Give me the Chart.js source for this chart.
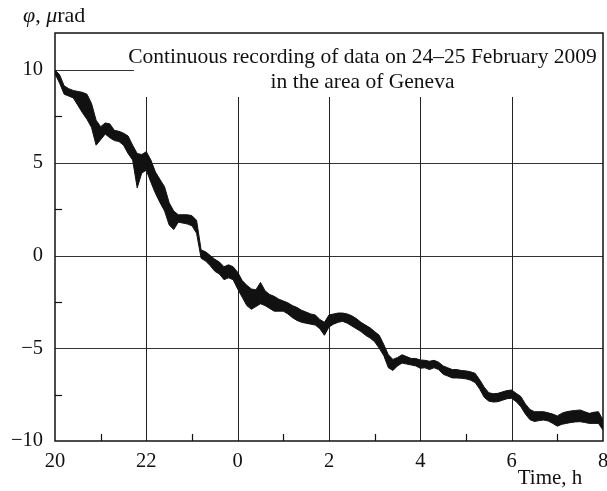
<!DOCTYPE html>
<html>
<head>
<meta charset="utf-8">
<script src="https://cdn.jsdelivr.net/npm/chart.js@4"></script>
<style>
html,body{margin:0;padding:0;background:#fff;}
canvas{display:block;}
</style>
</head>
<body>
<canvas id="c" width="607" height="491"></canvas>
<script>
// Sample times (hours, continuing past midnight: 24 = 0 h, 32 = 8 h)
const times = [20.0,20.1,20.2,20.3,20.4,20.5,20.6,20.7,20.8,20.9,
21.0,21.1,21.2,21.3,21.4,21.5,21.6,21.7,21.8,21.9,
22.0,22.1,22.2,22.3,22.4,22.5,22.6,22.7,22.8,22.9,
23.0,23.1,23.2,23.3,23.4,23.5,23.6,23.7,23.8,23.9,
24.0,24.1,24.2,24.3,24.4,24.5,24.6,24.7,24.8,24.9,
25.0,25.1,25.2,25.3,25.4,25.5,25.6,25.7,25.8,25.9,
26.0,26.1,26.2,26.3,26.4,26.5,26.6,26.7,26.8,26.9,
27.0,27.1,27.2,27.3,27.4,27.5,27.6,27.7,27.8,27.9,
28.0,28.1,28.2,28.3,28.4,28.5,28.6,28.7,28.8,28.9,
29.0,29.1,29.2,29.3,29.4,29.5,29.6,29.7,29.8,29.9,
30.0,30.1,30.2,30.3,30.4,30.5,30.6,30.7,30.8,30.9,
31.0,31.1,31.2,31.3,31.4,31.5,31.6,31.7,31.8,31.9,32.0];

// Upper edge of the recorded (noisy) trace, microrad
const phiUpper = [10.0,9.75,9.15,9.0,8.9,8.85,8.8,8.7,8.2,7.3,
6.95,7.15,7.1,6.75,6.7,6.6,6.45,5.95,5.5,5.45,
5.6,5.15,4.5,4.1,3.7,2.85,2.4,2.2,2.2,2.2,
2.15,1.9,0.3,0.2,0.0,-0.2,-0.35,-0.6,-0.5,-0.6,
-0.9,-1.35,-1.6,-1.8,-1.85,-1.45,-1.9,-2.1,-2.2,-2.35,
-2.45,-2.55,-2.7,-2.8,-2.95,-3.05,-3.15,-3.2,-3.45,-3.6,
-3.2,-3.15,-3.1,-3.1,-3.15,-3.25,-3.4,-3.6,-3.75,-3.9,
-4.1,-4.3,-4.8,-5.35,-5.6,-5.5,-5.35,-5.45,-5.55,-5.55,
-5.63,-5.65,-5.7,-5.65,-5.75,-5.95,-6.05,-6.15,-6.15,-6.2,
-6.22,-6.27,-6.35,-6.7,-7.1,-7.4,-7.45,-7.43,-7.35,-7.28,
-7.25,-7.43,-7.6,-8.0,-8.3,-8.42,-8.42,-8.42,-8.48,-8.55,
-8.65,-8.5,-8.42,-8.38,-8.35,-8.33,-8.42,-8.51,-8.45,-8.42,-8.87];

// Lower edge of the recorded (noisy) trace, microrad
const phiLower = [9.8,9.3,8.7,8.6,8.5,8.1,7.7,7.35,6.9,5.95,
6.25,6.55,6.35,6.2,6.15,5.95,5.5,5.15,3.65,4.45,
4.6,3.95,3.35,2.85,2.4,1.65,1.4,1.8,1.75,1.7,
1.6,1.2,-0.15,-0.3,-0.55,-0.85,-1.0,-1.3,-1.2,-1.3,
-1.8,-2.25,-2.7,-2.9,-2.75,-2.6,-2.7,-2.85,-3.0,-3.0,
-3.0,-3.15,-3.35,-3.5,-3.6,-3.65,-3.7,-3.75,-3.95,-4.3,
-3.85,-3.7,-3.6,-3.55,-3.65,-3.8,-3.95,-4.1,-4.3,-4.45,
-4.65,-5.0,-5.4,-6.05,-6.2,-5.95,-5.8,-5.85,-5.9,-5.95,
-6.08,-6.05,-6.15,-6.05,-6.15,-6.4,-6.5,-6.6,-6.6,-6.62,
-6.65,-6.72,-6.85,-7.2,-7.65,-7.85,-7.9,-7.88,-7.8,-7.72,
-7.7,-7.88,-8.15,-8.55,-8.85,-8.95,-8.9,-8.87,-8.92,-9.05,
-9.2,-9.1,-9.05,-9.0,-8.97,-8.96,-9.0,-9.05,-9.05,-9.05,-9.41];

const xTicks = [20,22,24,26,28,30,32];
const xMinor = [21,23,25,27,29,31];
const yTicks = [-10,-5,0,5,10];
const yMinor = [-7.5,-2.5,2.5,7.5];
const vGrid = [22,24,26,28,30];
const hGrid = [-5,0,5];
const titleLines = ['Continuous recording of data on 24\u201325 February 2009','in the area of Geneva'];

const SERIF = '"Liberation Serif","Times New Roman",serif';

const decor = {
  id:'decor',
  beforeDatasetsDraw(chart){
    const {ctx, chartArea:a, scales:{x,y}} = chart;
    ctx.save();
    ctx.lineWidth = 1;
    ctx.strokeStyle = '#333';
    hGrid.forEach(v=>{
      const py = Math.round(y.getPixelForValue(v))+0.5;
      ctx.beginPath(); ctx.moveTo(a.left,py); ctx.lineTo(a.right,py); ctx.stroke();
    });
    // short gridline at 10 (interrupted by the caption)
    let py = Math.round(y.getPixelForValue(10))+0.5;
    ctx.beginPath(); ctx.moveTo(a.left,py); ctx.lineTo(x.getPixelForValue(21.73),py); ctx.stroke();
    ctx.strokeStyle = '#222';
    vGrid.forEach(v=>{
      const px = Math.round(x.getPixelForValue(v))+0.5;
      ctx.beginPath(); ctx.moveTo(px,a.bottom); ctx.lineTo(px,y.getPixelForValue(8.55)); ctx.stroke();
    });
    ctx.restore();
  },
  afterDatasetsDraw(chart){
    const {ctx, chartArea:a, scales:{x,y}} = chart;
    ctx.save();
    ctx.strokeStyle = '#111';
    ctx.lineWidth = 1.5;
    ctx.strokeRect(a.left,a.top,a.right-a.left,a.bottom-a.top);
    ctx.lineWidth = 1.2;
    yMinor.forEach(v=>{
      const py = Math.round(y.getPixelForValue(v))+0.5;
      ctx.beginPath(); ctx.moveTo(a.left,py); ctx.lineTo(a.left+7,py); ctx.stroke();
    });
    xMinor.forEach(v=>{
      const px = Math.round(x.getPixelForValue(v))+0.5;
      ctx.beginPath(); ctx.moveTo(px,a.bottom); ctx.lineTo(px,a.bottom-7); ctx.stroke();
    });
    // caption
    ctx.fillStyle = '#111';
    ctx.font = '21.5px '+SERIF;
    ctx.textAlign = 'center';
    ctx.textBaseline = 'middle';
    const cx = 362.5;
    ctx.fillText(titleLines[0], cx, 57);
    ctx.fillText(titleLines[1], cx, 82);
    // axis titles
    ctx.textAlign = 'left';
    let tx = 23;
    const parts = [['\u03C6','italic '],[', ',''],['\u03BC','italic '],['rad','']];
    parts.forEach(([s,st])=>{
      ctx.font = st+'22px '+SERIF;
      ctx.fillText(s, tx, 16);
      tx += ctx.measureText(s).width;
    });
    ctx.font = '21px '+SERIF;
    ctx.textAlign = 'center';
    ctx.fillText('Time, h', 550, 478);
    ctx.restore();
  }
};

new Chart(document.getElementById('c'),{
  type:'line',
  data:{
    datasets:[
      {data:times.map((t,i)=>({x:t,y:phiUpper[i]})), borderColor:'#111', borderWidth:1, pointRadius:0, fill:false, tension:0},
      {data:times.map((t,i)=>({x:t,y:phiLower[i]})), borderColor:'#111', borderWidth:1, pointRadius:0, fill:'-1', backgroundColor:'#111', tension:0}
    ]
  },
  options:{
    responsive:false,
    animation:false,
    devicePixelRatio:1,
    layout:{padding:{top:33,right:4,left:0,bottom:0}},
    plugins:{legend:{display:false},tooltip:{enabled:false},title:{display:false}},
    scales:{
      x:{
        type:'linear', min:20, max:32,
        grid:{display:false, drawTicks:false},
        border:{display:false},
        afterBuildTicks(s){ s.ticks = xTicks.map(v=>({value:v})); },
        afterFit(s){ s.height = 50; s.paddingLeft = 0; s.paddingRight = 0; },
        ticks:{color:'#111', padding:8, maxRotation:0, autoSkip:false,
          font:{family:SERIF,size:20.5},
          callback:v=>String(v%24)}
      },
      y:{
        type:'linear', min:-10, max:12,
        grid:{display:false, drawTicks:false},
        border:{display:false},
        afterBuildTicks(s){ s.ticks = yTicks.map(v=>({value:v})); },
        afterFit(s){ s.width = 55; s.paddingTop = 0; s.paddingBottom = 0; },
        ticks:{color:'#111', padding:12, autoSkip:false,
          font:{family:SERIF,size:20.5},
          callback:v=> v<0 ? '\u2212'+Math.abs(v) : String(v)}
      }
    }
  },
  plugins:[decor]
});
</script>
</body>
</html>
